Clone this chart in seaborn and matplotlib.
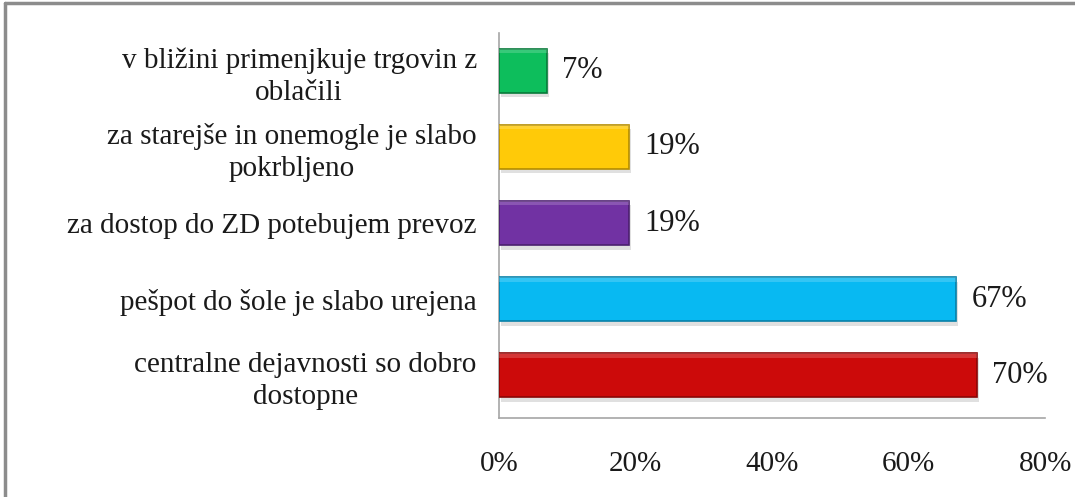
import numpy as np
import pandas as pd
import seaborn as sns
import matplotlib.pyplot as plt
from matplotlib.lines import Line2D
from matplotlib.patches import Rectangle

# --- data ---
categories = [
    'v bližini primenjkuje trgovin z\noblačili',
    'za starejše in onemogle je slabo\npokrbljeno',
    'za dostop do ZD potebujem prevoz',
    'pešpot do šole je slabo urejena',
    'centralne dejavnosti so dobro\ndostopne',
]
values = [0.07, 0.19, 0.19, 0.67, 0.70]
value_labels = ['7%', '19%', '19%', '67%', '70%']
bar_colors = ['#0DBE5C', '#FFCA08', '#7132A3', '#08B9F2', '#CC0A0A']
edge_colors = ['#087A3A', '#B48C00', '#4B1F6E', '#0780A8', '#8A0606']
x_ticks = [0, 0.2, 0.4, 0.6, 0.8]
x_ticklabels = ['0%', '20%', '40%', '60%', '80%']

df = pd.DataFrame({'kategorija': categories, 'delez': values})

sns.set_style('white')
plt.rcParams['font.family'] = ['Liberation Serif', 'DejaVu Serif']

fig = plt.figure(figsize=(10.75, 4.97), dpi=100)
ax = fig.add_axes([0.4642, 0.159, 0.508, 0.775])

sns.barplot(data=df, x='delez', y='kategorija', hue='kategorija',
            palette=bar_colors, legend=False, width=0.58, ax=ax,
            orient='h', saturation=1)

# bevel-ish look: darker edge, faint light strip on top, soft shadow
for patch, ec in zip(ax.patches, edge_colors):
    patch.set_edgecolor(ec)
    patch.set_linewidth(1.2)
    patch.set_zorder(3)
    x0, y0 = patch.get_x(), patch.get_y()
    w, h = patch.get_width(), patch.get_height()
    ax.add_patch(Rectangle((x0, y0), w, h * 0.1, facecolor='white',
                           alpha=0.18, linewidth=0, zorder=4))
    ax.add_patch(Rectangle((x0 + 0.003, y0 + h * 0.1), w, h, facecolor='#999999',
                           alpha=0.3, linewidth=0, zorder=2))

for patch, lab in zip(ax.patches[:len(values)], value_labels):
    ax.annotate(lab, (patch.get_width(), patch.get_y() + patch.get_height() / 2),
                xytext=(11, 0), textcoords='offset points', va='center', ha='left',
                fontsize=22, color='#1a1a1a')

ax.set_xlim(0, 0.8)
ax.set_ylim(len(values) - 0.5 + 0.06, -0.5)
ax.set_xticks(x_ticks)
ax.set_xticklabels(x_ticklabels, fontsize=21)
ax.set_yticks(range(len(categories)))
ax.set_yticklabels(categories, fontsize=21, multialignment='center', linespacing=1.3)
ax.tick_params(axis='x', length=0, pad=24, colors='#1a1a1a')
ax.tick_params(axis='y', length=0, pad=16, colors='#1a1a1a')
ax.set_xlabel('')
ax.set_ylabel('')

sns.despine(ax=ax, top=True, right=True)
for side in ['left', 'bottom']:
    ax.spines[side].set_color('#A6A6A6')
    ax.spines[side].set_linewidth(1.2)

# outer frame of the chart area
fig.add_artist(Line2D([0.005, 0.005], [0, 0.993], color='#8C8C8C', lw=2.5))
fig.add_artist(Line2D([0.005, 1], [0.993, 0.993], color='#8C8C8C', lw=2.5))

fig.savefig('out.png', dpi=100)
